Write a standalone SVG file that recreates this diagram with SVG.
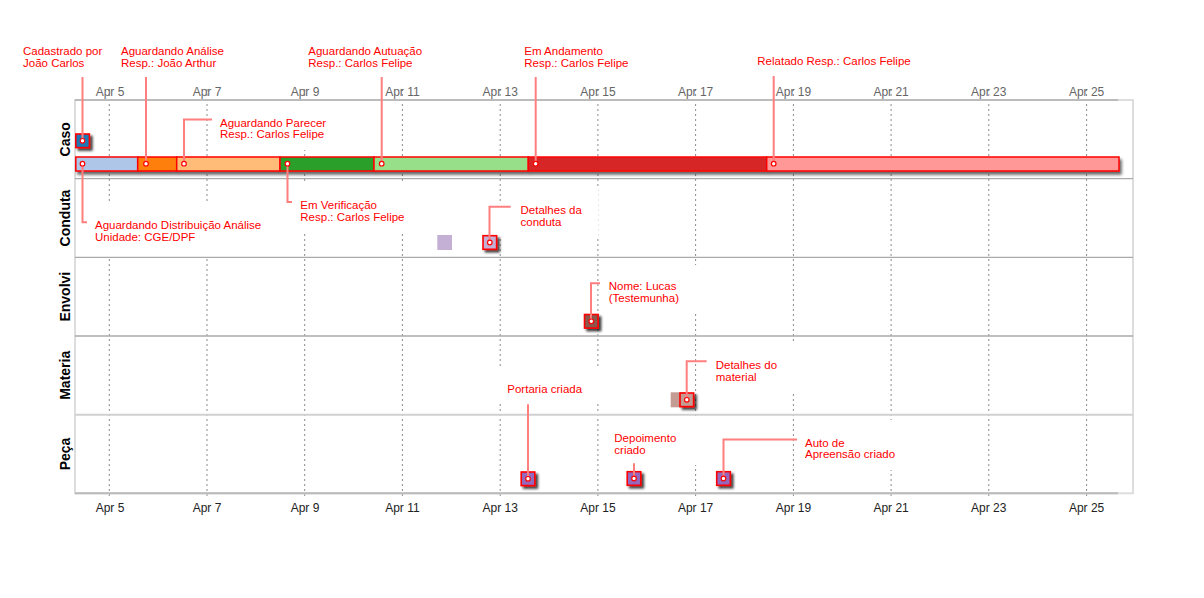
<svg xmlns="http://www.w3.org/2000/svg" width="1204" height="598" viewBox="0 0 1204 598">
<style>
.grid{stroke:#8a8a8a;stroke-width:1;stroke-dasharray:2,3;fill:none}
.bg{fill:#fff}
.sep{stroke:#aaa;stroke-width:1.3}
.axl{stroke:#bbb;stroke-width:2}
.lead{stroke:#ff7f7f;stroke-width:2;fill:none}
.lbl{font-family:"Liberation Sans",Arial,sans-serif;font-size:11.5px;fill:#ff0000}
.axT{font-family:"Liberation Sans",Arial,sans-serif;font-size:12px;fill:#666;text-anchor:middle}
.axB{font-family:"Liberation Sans",Arial,sans-serif;font-size:12px;fill:#222;text-anchor:middle}
.row{font-family:"Liberation Sans",Arial,sans-serif;font-size:14px;font-weight:bold;fill:#000;text-anchor:middle}
.seg{stroke:#ff0000;stroke-width:1.5}
.mk{stroke:#ff0000;stroke-width:1.6}
.dot{fill:#fff;stroke:#ff0000;stroke-width:1.2}
</style>
<defs>
<filter id="barShadow" x="-5%" y="-50%" width="110%" height="200%">
<feDropShadow dx="2" dy="3" stdDeviation="1.8" flood-color="#000" flood-opacity="0.6"/>
</filter>
<filter id="mkShadow" x="-50%" y="-50%" width="200%" height="200%">
<feDropShadow dx="2.5" dy="2.5" stdDeviation="1.2" flood-color="#000" flood-opacity="0.75"/>
</filter>
</defs>
<rect width="1204" height="598" fill="#fff"/>

<g id="grid">
<path class="grid" d="M109.3,89V497M207,89V497M304.7,89V497M402.4,89V497M500.2,89V497M597.9,89V497M695.6,89V497M793.4,89V497M891.1,89V497M988.8,89V497M1086.6,89V497"/>
</g>

<g id="label-backgrounds">
<rect class="bg" x="213" y="101" width="126" height="49"/>
<rect class="bg" x="88" y="204" width="197" height="52"/>
<rect class="bg" x="293" y="183" width="124" height="49"/>
<rect class="bg" x="505" y="188" width="93.5" height="50"/>
<rect class="bg" x="495" y="203" width="12" height="34"/>
<rect class="bg" x="601" y="265" width="98" height="48"/>
<rect class="bg" x="708" y="343" width="86" height="49"/>
<rect class="bg" x="498" y="366" width="102" height="38"/>
<rect class="bg" x="607" y="416" width="90" height="49"/>
<rect class="bg" x="798" y="420" width="116" height="50"/>
</g>

<g id="frame">
<rect x="75" y="100" width="1058" height="393.3" fill="none" stroke="#ddd" stroke-width="2"/>
<path class="sep" d="M75,178.7H1133M75,257.3H1133M75,336H1133"/>
<path d="M75,414.7H1133" stroke="#d0d0d0" stroke-width="2"/>
<path class="axl" d="M75,100H1118M75,493.3H1118"/>
</g>

<g id="axis-top">
<text class="axT" x="110" y="96">Apr 5</text>
<text class="axT" x="207" y="96">Apr 7</text>
<text class="axT" x="305" y="96">Apr 9</text>
<text class="axT" x="402.4" y="96">Apr 11</text>
<text class="axT" x="500.2" y="96">Apr 13</text>
<text class="axT" x="597.9" y="96">Apr 15</text>
<text class="axT" x="695.6" y="96">Apr 17</text>
<text class="axT" x="793.4" y="96">Apr 19</text>
<text class="axT" x="891.1" y="96">Apr 21</text>
<text class="axT" x="988.8" y="96">Apr 23</text>
<text class="axT" x="1086.6" y="96">Apr 25</text>
</g>
<g id="axis-bottom">
<text class="axB" x="110" y="512">Apr 5</text>
<text class="axB" x="207" y="512">Apr 7</text>
<text class="axB" x="305" y="512">Apr 9</text>
<text class="axB" x="402.4" y="512">Apr 11</text>
<text class="axB" x="500.2" y="512">Apr 13</text>
<text class="axB" x="597.9" y="512">Apr 15</text>
<text class="axB" x="695.6" y="512">Apr 17</text>
<text class="axB" x="793.4" y="512">Apr 19</text>
<text class="axB" x="891.1" y="512">Apr 21</text>
<text class="axB" x="988.8" y="512">Apr 23</text>
<text class="axB" x="1086.6" y="512">Apr 25</text>
</g>

<g id="row-labels">
<text class="row" transform="translate(69.5,139.3) rotate(-90)">Caso</text>
<text class="row" transform="translate(69.5,218) rotate(-90)">Conduta</text>
<text class="row" transform="translate(69.5,296.7) rotate(-90)">Envolvi</text>
<text class="row" transform="translate(69.5,375.3) rotate(-90)">Materia</text>
<text class="row" transform="translate(69.5,454) rotate(-90)">Peça</text>
</g>

<g id="caso-bar" filter="url(#barShadow)">
<g id="seg-distribuicao"><rect class="seg" x="75.8" y="157" width="61.9" height="14" fill="#aec7e8"/></g>
<g id="seg-analise"><rect class="seg" x="137.7" y="157" width="39" height="14" fill="#ff7f0e"/></g>
<g id="seg-parecer"><rect class="seg" x="176.7" y="157" width="103.3" height="14" fill="#ffbb78"/></g>
<g id="seg-verificacao"><rect class="seg" x="280" y="157" width="94" height="14" fill="#2ca02c"/></g>
<g id="seg-autuacao"><rect class="seg" x="374" y="157" width="154.3" height="14" fill="#98df8a"/></g>
<g id="seg-andamento"><rect class="seg" x="528.3" y="157" width="238.4" height="14" fill="#d62728"/></g>
<g id="seg-relatado"><rect class="seg" x="766.7" y="157" width="352.3" height="14" fill="#ff9896"/></g>
</g>

<g id="ghost-items">
<rect x="437.3" y="235" width="14.7" height="15" fill="#c5b0d5"/>
<rect x="670.7" y="392.3" width="15" height="15" fill="#c49c94"/>
</g>

<g id="node-caso" filter="url(#mkShadow)"><rect class="mk" x="75.8" y="134" width="13.6" height="13.6" fill="#1f77b4"/></g>
<g id="node-conduta" filter="url(#mkShadow)"><rect class="mk" x="483" y="235.7" width="13.6" height="13.6" fill="#c5b0d5"/></g>
<g id="node-envolvido" filter="url(#mkShadow)"><rect class="mk" x="584.5" y="314.5" width="13.6" height="13.6" fill="#8c564b"/></g>
<g id="node-material" filter="url(#mkShadow)"><rect class="mk" x="680" y="393" width="13.6" height="13.6" fill="#c49c94"/></g>
<g id="node-portaria" filter="url(#mkShadow)"><rect class="mk" x="521.2" y="472" width="13.6" height="13.6" fill="#9467bd"/></g>
<g id="node-depoimento" filter="url(#mkShadow)"><rect class="mk" x="627.2" y="471.7" width="13.6" height="13.6" fill="#9467bd"/></g>
<g id="node-auto" filter="url(#mkShadow)"><rect class="mk" x="716.7" y="471.7" width="13.6" height="13.6" fill="#9467bd"/></g>

<g id="connectors">
<path class="lead" d="M82.5,77V140.8"/>
<path class="lead" d="M146,77V163.7"/>
<path class="lead" d="M184,163.7V119.5H212"/>
<path class="lead" d="M381.7,77V163.7"/>
<path class="lead" d="M535.7,77V163.7"/>
<path class="lead" d="M773.7,76V163.7"/>
<path class="lead" d="M82.5,163.7V222.3H87"/>
<path class="lead" d="M287.5,163.7V202H292"/>
<path class="lead" d="M489.5,242.5V206.7H510.7"/>
<path class="lead" d="M591,321.3V283.3H600"/>
<path class="lead" d="M686.7,399.8V361.3H706.7"/>
<path class="lead" d="M528,404.3V478.8"/>
<path class="lead" d="M634,463.3V478.5"/>
<path class="lead" d="M723.5,478.5V439.5H797"/>
</g>

<g id="anchor-dots">
<circle class="dot" cx="82.5" cy="140.8" r="2.3"/>
<circle class="dot" cx="82.5" cy="163.7" r="2.3"/>
<circle class="dot" cx="146" cy="163.7" r="2.3"/>
<circle class="dot" cx="184" cy="163.7" r="2.3"/>
<circle class="dot" cx="287.5" cy="163.7" r="2.3"/>
<circle class="dot" cx="381.7" cy="163.7" r="2.3"/>
<circle class="dot" cx="535.7" cy="163.7" r="2.3"/>
<circle class="dot" cx="773.7" cy="163.7" r="2.3"/>
<circle class="dot" cx="489.8" cy="242.5" r="2.3"/>
<circle class="dot" cx="591.3" cy="321.3" r="2.3"/>
<circle class="dot" cx="686.8" cy="399.8" r="2.3"/>
<circle class="dot" cx="528" cy="478.8" r="2.3"/>
<circle class="dot" cx="634" cy="478.5" r="2.3"/>
<circle class="dot" cx="723.5" cy="478.5" r="2.3"/>
</g>

<g id="labels">
<text class="lbl" x="23" y="55">Cadastrado por<tspan x="23" y="66.7">João Carlos</tspan></text>
<text class="lbl" x="121" y="55">Aguardando Análise<tspan x="121" y="66.7">Resp.: João Arthur</tspan></text>
<text class="lbl" x="220" y="126.7">Aguardando Parecer<tspan x="220" y="138.4">Resp.: Carlos Felipe</tspan></text>
<text class="lbl" x="308.3" y="55">Aguardando Autuação<tspan x="308.3" y="66.7">Resp.: Carlos Felipe</tspan></text>
<text class="lbl" x="524.3" y="55">Em Andamento<tspan x="524.3" y="66.7">Resp.: Carlos Felipe</tspan></text>
<text class="lbl" x="757.3" y="65">Relatado Resp.: Carlos Felipe</text>
<text class="lbl" x="95" y="229.3">Aguardando Distribuição Análise<tspan x="95" y="241">Unidade: CGE/DPF</tspan></text>
<text class="lbl" x="300.3" y="209">Em Verificação<tspan x="300.3" y="220.7">Resp.: Carlos Felipe</tspan></text>
<text class="lbl" x="520.5" y="214">Detalhes da<tspan x="520.5" y="225.7">conduta</tspan></text>
<text class="lbl" x="608.7" y="290.3">Nome: Lucas<tspan x="608.7" y="302">(Testemunha)</tspan></text>
<text class="lbl" x="715.7" y="369">Detalhes do<tspan x="715.7" y="380.7">material</tspan></text>
<text class="lbl" x="507.3" y="392.5">Portaria criada</text>
<text class="lbl" x="614.3" y="442">Depoimento<tspan x="614.3" y="453.7">criado</tspan></text>
<text class="lbl" x="805" y="446.7">Auto de<tspan x="805" y="458.4">Apreensão criado</tspan></text>
</g>
</svg>
